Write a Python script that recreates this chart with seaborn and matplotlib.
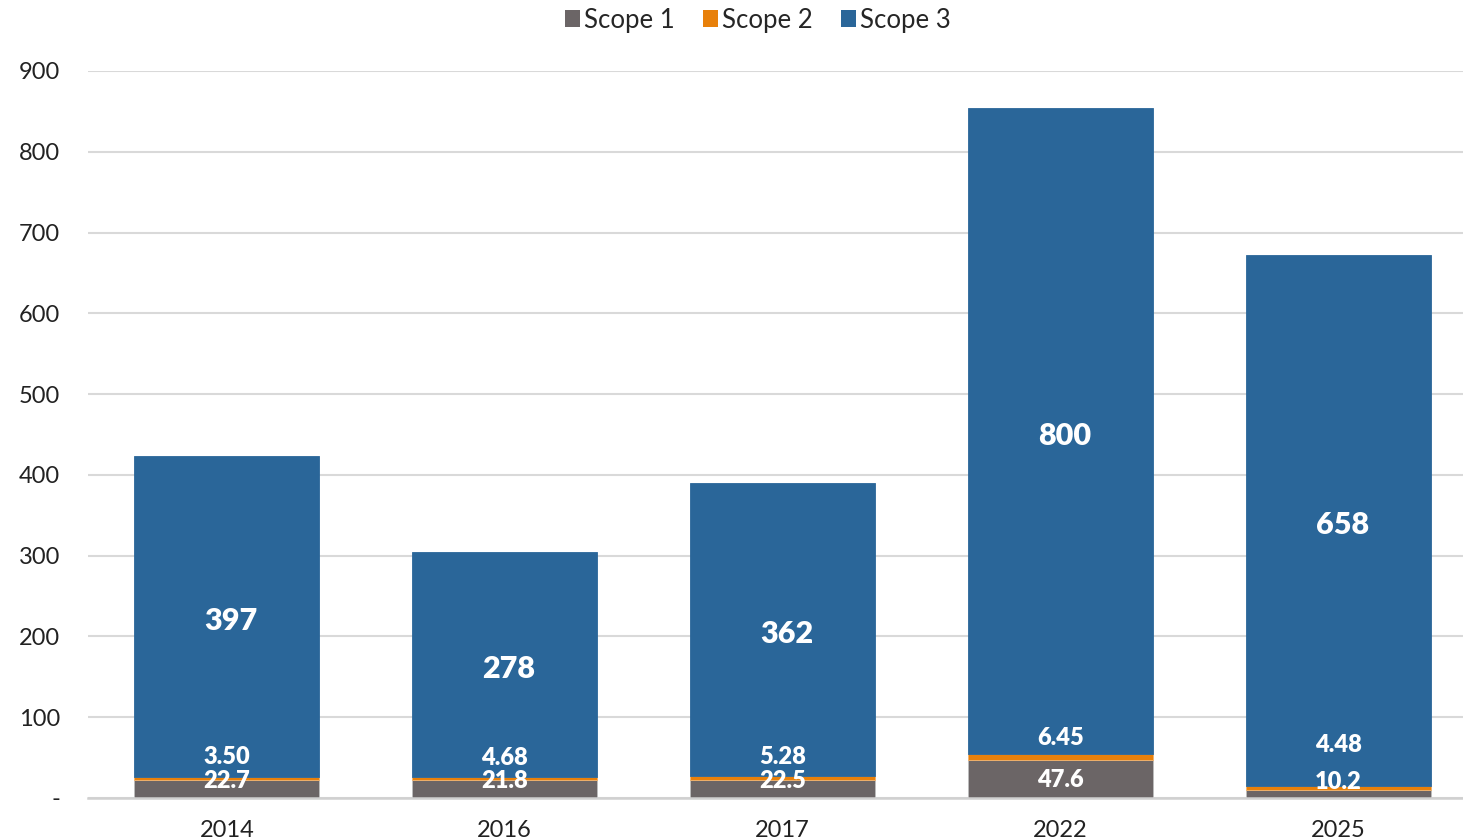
import matplotlib
matplotlib.use("Agg")
import matplotlib.pyplot as plt
from matplotlib.patches import Patch
import seaborn as sns

# Emissions by scope (stacked per year)
years = ["2014", "2016", "2017", "2022", "2025"]
scope1 = [22.7, 21.8, 22.5, 47.6, 10.2]
scope2 = [3.50, 4.68, 5.28, 6.45, 4.48]
scope3 = [397, 278, 362, 800, 658]
series_names = ["Scope 1", "Scope 2", "Scope 3"]
y_ticks = [0, 100, 200, 300, 400, 500, 600, 700, 800, 900]
y_tick_labels = ["-", "100", "200", "300", "400", "500", "600", "700", "800", "900"]

colors = ["#6B6566", "#E8800A", "#2A6699"]

sns.set_theme(style="white")
plt.rcParams["font.family"] = ["Lato", "DejaVu Sans"]

fig = plt.figure(figsize=(14.63, 8.4), dpi=100)
ax = fig.add_axes([88 / 1463, 42 / 840, 1 - 88 / 1463, (798 - 71) / 840])

bar_w = 0.666
bottom2 = [a for a in scope1]
bottom3 = [a + b for a, b in zip(scope1, scope2)]

sns.barplot(x=years, y=scope1, color=colors[0], width=bar_w, ax=ax,
            edgecolor="#BDBDBD", linewidth=0.6, saturation=1)
sns.barplot(x=years, y=scope2, bottom=bottom2, color=colors[1], width=bar_w,
            ax=ax, edgecolor="#F2B26B", linewidth=0.6, saturation=1)
sns.barplot(x=years, y=scope3, bottom=bottom3, color=colors[2], width=bar_w,
            ax=ax, edgecolor="#2A6699", linewidth=0.6, saturation=1)

ax.set_xlim(-0.5, 4.45)
ax.set_ylim(0, 900)
ax.set_yticks(y_ticks)
ax.set_yticklabels(y_tick_labels)
ax.grid(axis="y", color="#D9D9D9", linewidth=1.5)
ax.set_axisbelow(True)
for s in ["top", "right", "left"]:
    ax.spines[s].set_visible(False)
ax.spines["bottom"].set_color("#D0D0D0")
ax.spines["bottom"].set_linewidth(1.8)
ax.tick_params(axis="y", length=0, pad=20, labelsize=17, labelcolor="#222222")
ax.tick_params(axis="x", length=0, pad=16, labelsize=17, labelcolor="#222222")
ax.set_xlabel("")
ax.set_ylabel("")

# value labels; small segments get their labels lifted so they stay readable
lbl1_y = [24.8, 24.8, 24.8, 27.2, 23.5]
lbl2_y = [54.5, 53.2, 54.5, 78.0, 69.3]
small = dict(ha="center", va="center", color="white", fontsize=17,
             fontweight="heavy", textcoords="offset points", xytext=(0, -2.5))
for i in range(len(years)):
    ax.annotate(f"{scope1[i]:.1f}", (i, lbl1_y[i]), **small)
    ax.annotate(f"{scope2[i]:.2f}", (i, lbl2_y[i]), **small)
    ax.annotate(f"{scope3[i]:.0f}", (i, bottom3[i] + scope3[i] / 2),
                ha="center", va="center", color="white", fontsize=22,
                fontweight="heavy", textcoords="offset points", xytext=(3, -3.5))

handles = [Patch(facecolor=c, edgecolor="none") for c in colors]
fig.legend(handles, series_names, loc="center", bbox_to_anchor=(0.518, 0.976),
           ncol=3, frameon=False, fontsize=18.5, handlelength=0.6,
           handleheight=0.6, handletextpad=0.15, columnspacing=1.1)

fig.savefig("out.png", dpi=100)
